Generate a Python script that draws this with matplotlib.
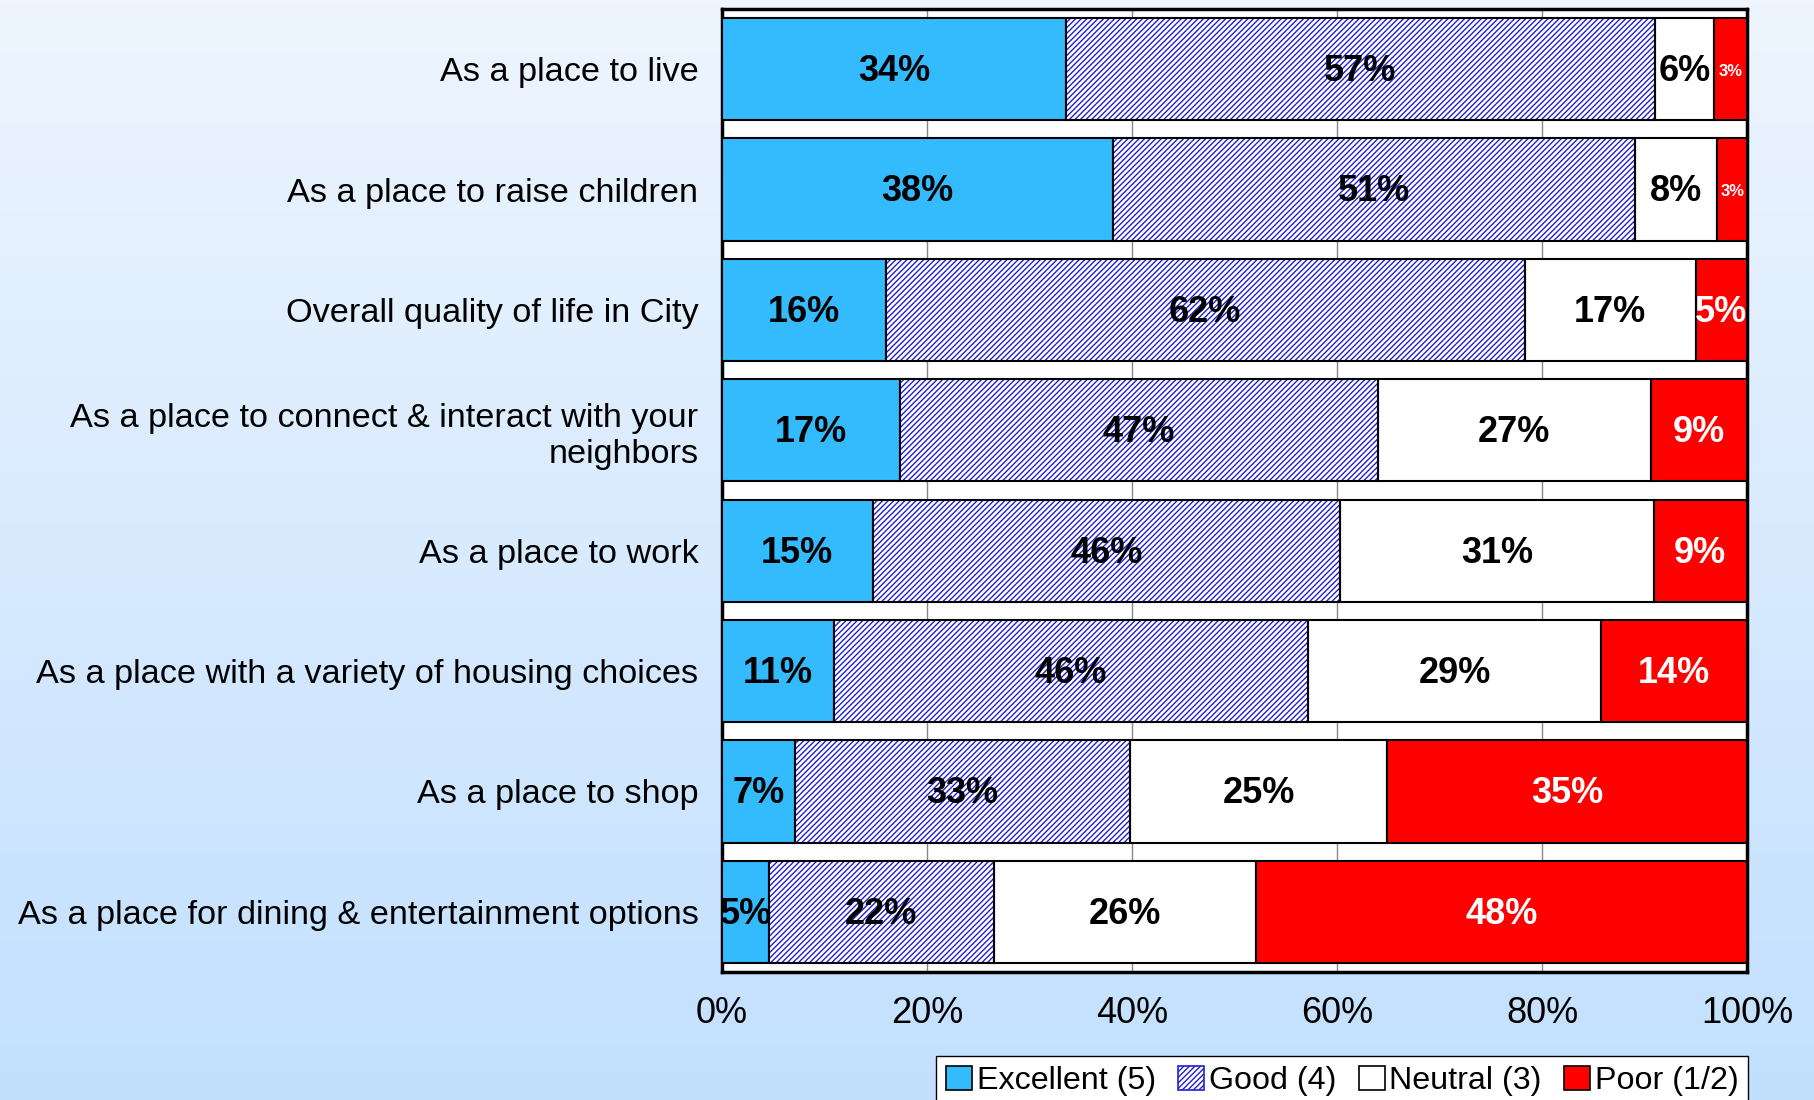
"""Horizontal stacked bar chart of community ratings."""
import matplotlib
matplotlib.use('Agg')
import matplotlib.pyplot as plt
import numpy as np
from matplotlib.patches import Patch

plt.rcParams['font.family'] = ['Liberation Sans', 'DejaVu Sans']
plt.rcParams['hatch.linewidth'] = 1.0

categories = ['As a place to live', 'As a place to raise children', 'Overall quality of life in City',
              'As a place to connect & interact with your\nneighbors', 'As a place to work',
              'As a place with a variety of housing choices', 'As a place to shop',
              'As a place for dining & entertainment options']
excellent = [33.6, 38.1, 16.0, 17.4, 14.7, 10.9, 7.1, 4.6]
good = [57.4, 51.0, 62.3, 46.6, 45.6, 46.3, 32.7, 21.9]
neutral = [5.8, 8.0, 16.7, 26.6, 30.6, 28.6, 25.1, 25.6]
poor = [3.2, 2.9, 5.0, 9.4, 9.1, 14.2, 35.1, 47.9]
series_names = ['Excellent (5)', 'Good (4)', 'Neutral (3)', 'Poor (1/2)']
ticks = [0, 20, 40, 60, 80, 100]

W, H = 1814, 1100
HATCH_BLUE = '#2020d0'
fig = plt.figure(figsize=(W / 100, H / 100), dpi=100)

# background gradient
bg = fig.add_axes([0, 0, 1, 1], zorder=-10)
top = np.array([0xEE, 0xF5, 0xFE]) / 255
bot = np.array([0xC2, 0xE0, 0xFE]) / 255
t = np.linspace(0, 1, 256)[:, None]
grad = top * (1 - t) + bot * t
bg.imshow(grad[:, None, :].repeat(2, axis=1), aspect='auto', extent=[0, 1, 0, 1])
bg.axis('off')

ax = fig.add_axes([722 / W, 1 - 972 / H, (1747 - 722) / W, (972 - 9) / H])
ax.set_facecolor('white')
y = np.arange(len(categories))
styles = [dict(color='#33bbfd', hatch=None), dict(color='white', hatch='//////'),
          dict(color='white', hatch=None), dict(color='#ff0000', hatch=None)]
text_colors = ['black', 'black', 'black', 'white']
left = np.zeros(len(categories))
for vals, st, tc in zip([excellent, good, neutral, poor], styles, text_colors):
    vals = np.array(vals)
    if st['hatch']:
        # hatch drawn in blue, outline drawn separately in black
        ax.barh(y, vals, left=left, height=0.85, color=st['color'], hatch=st['hatch'],
                edgecolor=HATCH_BLUE, linewidth=0, zorder=3)
        ax.barh(y, vals, left=left, height=0.85, fill=False, edgecolor='black', linewidth=1.5, zorder=3.5)
    else:
        ax.barh(y, vals, left=left, height=0.85, color=st['color'], edgecolor='black', linewidth=1.5, zorder=3)
    for yi, (l, v) in enumerate(zip(left, vals)):
        fs = 12 if v < 4 else 26
        ax.text(l + v / 2, yi + 0.02, f'{v:.0f}%', ha='center', va='center', color=tc,
                fontsize=fs, fontweight='bold', zorder=5)
    left += vals

ax.set_xlim(0, 100)
ax.set_ylim(len(categories) - 0.5, -0.5)
ax.set_yticks(y, categories, fontsize=24.7, linespacing=1.22)
ax.set_xticks(ticks, [f'{v}%' for v in ticks], fontsize=26)
ax.tick_params(axis='y', length=0, pad=17)
ax.tick_params(axis='x', length=0, pad=17)
ax.xaxis.grid(True, color='#888888', lw=1, zorder=0)
ax.set_axisbelow(True)
for s in ax.spines.values():
    s.set_linewidth(2.5)
    s.set_color('black')

handles = [Patch(facecolor=st['color'], hatch=st['hatch'],
                 edgecolor=HATCH_BLUE if st['hatch'] else 'black', linewidth=1.2)
           for st in styles]
fig.legend(handles, series_names, loc='upper center', bbox_to_anchor=(0.74, 0.040), ncol=4,
           fontsize=23.2, frameon=True, fancybox=False, edgecolor='black', framealpha=1,
           handlelength=0.8, handleheight=0.8, handletextpad=0.15, columnspacing=0.7,
           borderpad=0.3, borderaxespad=0)

fig.savefig('out.png', dpi=100)
